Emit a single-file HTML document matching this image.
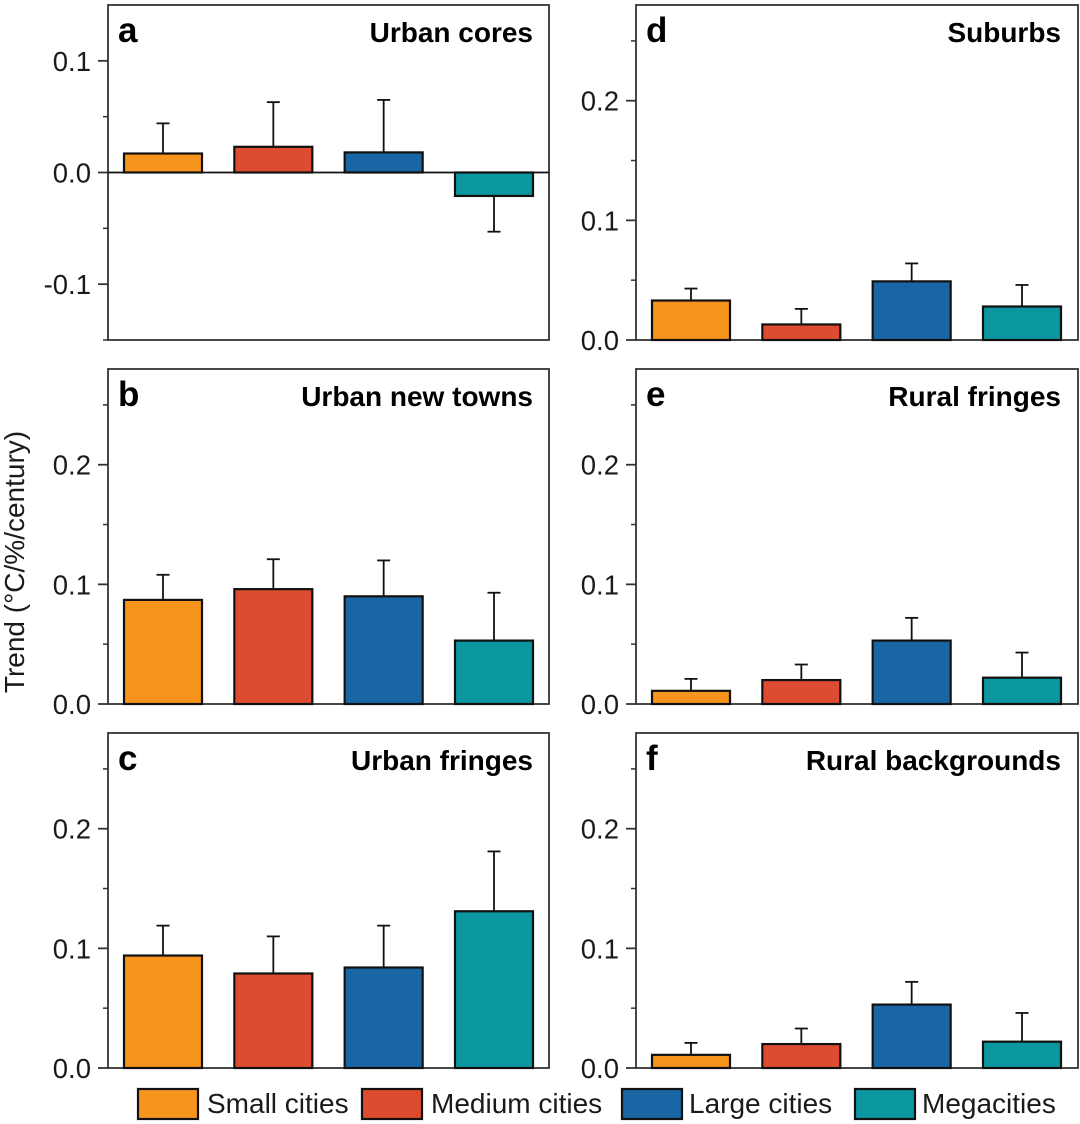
<!DOCTYPE html>
<html lang="en">
<head>
<meta charset="utf-8">
<title>Trend by city size and urban zone</title>
<style>
  html, body { margin: 0; padding: 0; background: #ffffff; }
  svg { display: block; font-family: "Liberation Sans", Arial, sans-serif; }
</style>
</head>
<body>
<svg id="chart" xmlns="http://www.w3.org/2000/svg" width="1080" height="1124" viewBox="0 0 1080 1124">
  <text transform="translate(24,562) rotate(-90)" text-anchor="middle" font-size="28" fill="#1a1a1a">Trend (°C/%/century)</text>
</svg>
<script>
const categories = ['Small cities', 'Medium cities', 'Large cities', 'Megacities'];
const colors = ['#f7941e', '#dd4c30', '#1a66a5', '#0a97a0'];

const panelLetters = ['a', 'b', 'c', 'd', 'e', 'f'];
const panelTitles = ['Urban cores', 'Urban new towns', 'Urban fringes', 'Suburbs', 'Rural fringes', 'Rural backgrounds'];

const valuesA = [0.017, 0.023, 0.018, -0.021];
const errorEndsA = [0.044, 0.063, 0.065, -0.053];
const valuesB = [0.087, 0.096, 0.090, 0.053];
const errorEndsB = [0.108, 0.121, 0.120, 0.093];
const valuesC = [0.094, 0.079, 0.084, 0.131];
const errorEndsC = [0.119, 0.110, 0.119, 0.181];
const valuesD = [0.033, 0.013, 0.049, 0.028];
const errorEndsD = [0.043, 0.026, 0.064, 0.046];
const valuesE = [0.011, 0.020, 0.053, 0.022];
const errorEndsE = [0.021, 0.033, 0.072, 0.043];
const valuesF = [0.011, 0.020, 0.053, 0.022];
const errorEndsF = [0.021, 0.033, 0.072, 0.046];

const tickLabelsA = [-0.1, 0.0, 0.1];
const minorTicksA = [-0.15, -0.05, 0.05];
const tickLabelsOther = [0.0, 0.1, 0.2];
const minorTicksOther = [0.05, 0.15, 0.25];

const svg = document.getElementById('chart');
const NS = 'http://www.w3.org/2000/svg';
const INK = '#111111';
const FRAME = '#333333';

function make(tag, attrs, text) {
  const el = document.createElementNS(NS, tag);
  for (const k in attrs) el.setAttribute(k, attrs[k]);
  if (text !== undefined) el.textContent = text;
  return el;
}

function drawPanel(cfg) {
  const g = make('g', {});
  
  
  svg.appendChild(g);

  const yScale = v => cfg.top + (cfg.yMax - v) / (cfg.yMax - cfg.yMin) * (cfg.bottom - cfg.top);
  const slot = (cfg.barRight - cfg.barLeft - 78) / 3;
  const xScale = i => cfg.barLeft + i * slot;
  const zero = yScale(0);

  const frame = make('rect', { x: cfg.left, y: cfg.top, width: cfg.right - cfg.left, height: cfg.bottom - cfg.top, fill: '#fff', stroke: FRAME, 'stroke-width': 1.8 });
  
  
  g.appendChild(frame);

  cfg.ticks.forEach(t => {
    const y = yScale(t);
    const tick = make('line', { x1: cfg.left - 10, x2: cfg.left, y1: y, y2: y, stroke: FRAME, 'stroke-width': 1.8 });
    
    
    g.appendChild(tick);
    const label = make('text', { x: cfg.left - 17, y: y + 10, 'text-anchor': 'end', 'font-size': 27.5, fill: '#1a1a1a' }, t.toFixed(1));
    
    
    g.appendChild(label);
  });

  cfg.minor.forEach(t => {
    const y = yScale(t);
    const tick = make('line', { x1: cfg.left - 5, x2: cfg.left, y1: y, y2: y, stroke: FRAME, 'stroke-width': 1.5 });
    
    
    g.appendChild(tick);
  });

  cfg.values.forEach((v, i) => {
    const x = xScale(i);
    const cx = x + 39;
    const yEnd = yScale(cfg.errors[i]);
    const yVal = yScale(v);

    const stem = make('line', { x1: cx, x2: cx, y1: yVal, y2: yEnd, stroke: INK, 'stroke-width': 1.8 });
    
    
    g.appendChild(stem);

    const cap = make('line', { x1: cx - 6.5, x2: cx + 6.5, y1: yEnd, y2: yEnd, stroke: INK, 'stroke-width': 1.8 });
    
    
    g.appendChild(cap);

    const bar = make('rect', { x: x, y: Math.min(yVal, zero), width: 78, height: Math.abs(zero - yVal), fill: colors[i], stroke: INK, 'stroke-width': 2.2 });
    
    
    g.appendChild(bar);
  });

  if (cfg.yMin < 0) {
    const baseline = make('line', { x1: cfg.left, x2: cfg.right, y1: zero, y2: zero, stroke: INK, 'stroke-width': 1.8 });
    
    
    g.appendChild(baseline);
  }

  const letter = make('text', { x: cfg.left + 10, y: cfg.top + 37, 'font-size': 35, 'font-weight': 'bold', fill: '#000' }, cfg.letter);
  
  
  g.appendChild(letter);

  const title = make('text', { x: cfg.barRight, y: cfg.top + 37, 'text-anchor': 'end', 'font-size': 28, 'font-weight': 'bold', fill: '#000' }, cfg.title);
  
  
  g.appendChild(title);
}

const leftColumn = { left: 108, right: 549, barLeft: 124, barRight: 533 };
const rightColumn = { left: 636, right: 1078, barLeft: 652, barRight: 1061 };

const panelTops = [5, 369, 733];
const panelSeries = [
  [valuesA, errorEndsA, leftColumn],
  [valuesB, errorEndsB, leftColumn],
  [valuesC, errorEndsC, leftColumn],
  [valuesD, errorEndsD, rightColumn],
  [valuesE, errorEndsE, rightColumn],
  [valuesF, errorEndsF, rightColumn]
];

panelSeries.forEach((s, i) => {
  const isA = i === 0;
  const top = panelTops[i % 3];
  drawPanel(Object.assign({}, s[2], {
    letter: panelLetters[i],
    title: panelTitles[i],
    values: s[0],
    errors: s[1],
    top: top,
    bottom: top + 335,
    yMin: isA ? -0.15 : 0,
    yMax: isA ? 0.15 : 0.28,
    ticks: isA ? tickLabelsA : tickLabelsOther,
    minor: isA ? minorTicksA : minorTicksOther
  }));
});

const legendSwatchX = [138, 362, 622, 855];
const legendTextX = [207, 431, 689, 922];

const legend = make('g', {});


svg.appendChild(legend);

categories.forEach((c, i) => {
  const swatch = make('rect', { x: legendSwatchX[i], y: 1089, width: 60, height: 30, fill: colors[i], stroke: INK, 'stroke-width': 2.2 });
  
  
  legend.appendChild(swatch);

  const label = make('text', { x: legendTextX[i], y: 1113, 'font-size': 28, fill: '#1a1a1a' }, c);
  
  
  legend.appendChild(label);
});
</script>
</body>
</html>
